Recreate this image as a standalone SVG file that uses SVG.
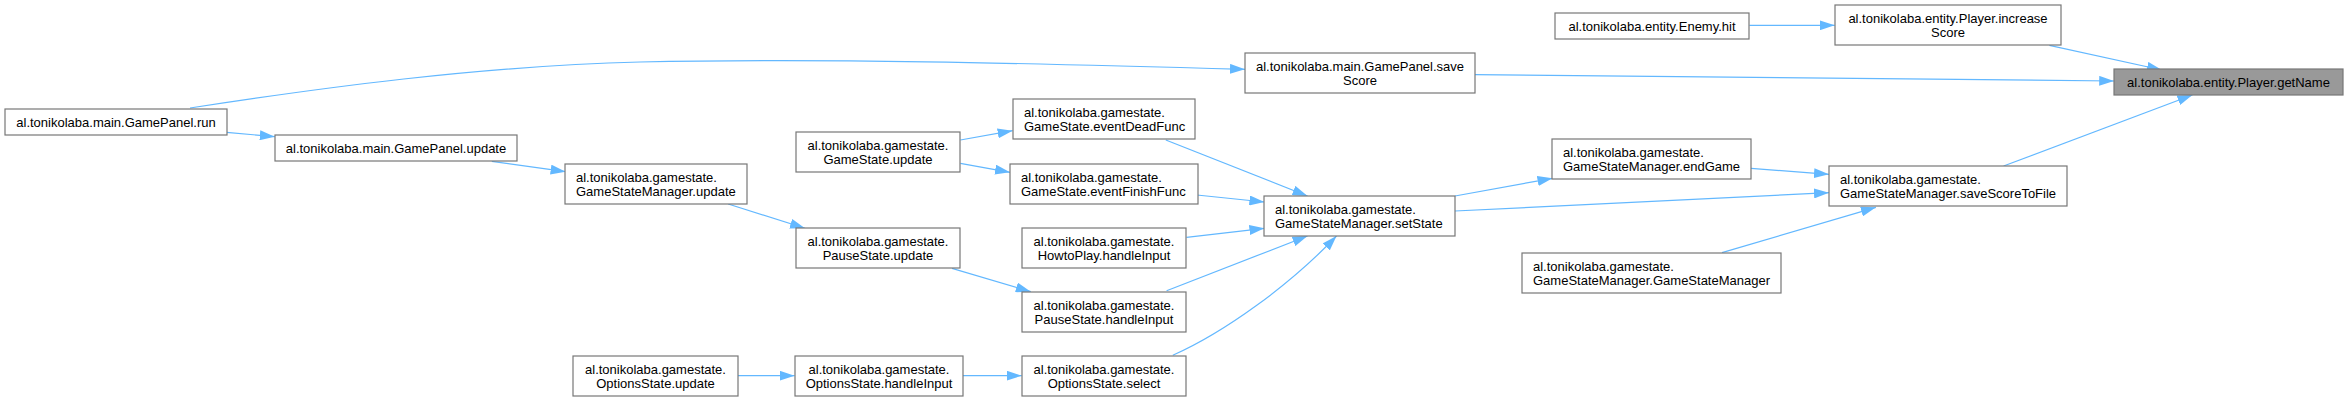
<svg xmlns="http://www.w3.org/2000/svg" width="2348" height="401" viewBox="0 0 2348 401">
<defs>
<style>
.n rect{fill:#ffffff;stroke:#777777;stroke-width:1.2}
.n.f rect{fill:#999999}
.n text{font-family:"Liberation Sans",Arial,sans-serif;font-size:13px;fill:#000000}
.c{text-anchor:middle}
.e path{fill:none;stroke:#63b8ff;stroke-width:1.2;marker-end:url(#ah)}
</style>
<marker id="ah" markerWidth="15" markerHeight="10" refX="15" refY="5" orient="auto" markerUnits="userSpaceOnUse"><path d="M0,0 L15,5 L0,10 z" fill="#63b8ff" stroke="none"/></marker>
</defs>
<rect x="0" y="0" width="2348" height="401" fill="#ffffff"/>
<g id="edges" class="e">
<path d="M226.6,132.3 L274.8,136.7"/>
<path d="M190,108 C320,88 480,66 640,62 C820,58 1020,63 1245,69.3"/>
<path d="M491.8,161.3 L565.6,171.7"/>
<path d="M728.2,204 L805,228.3"/>
<path d="M960.4,140 L1012.6,130.7"/>
<path d="M960.4,163.3 L1010,172.3"/>
<path d="M952,268.3 L1030.8,291.7"/>
<path d="M737.8,375.7 L794.6,375.7"/>
<path d="M962.8,375.7 L1021.7,375.7"/>
<path d="M1165.8,140 L1307.5,196"/>
<path d="M1196.8,195 L1264.4,202"/>
<path d="M1186.5,237.3 L1264.4,228.3"/>
<path d="M1166.6,290.7 L1307.5,236"/>
<path d="M1172.8,355.3 C1225,332 1290,285 1336.5,236"/>
<path d="M1455,196 L1552.5,178.3"/>
<path d="M1455,211 L1829,192.7"/>
<path d="M1751,168.3 L1829,174.3"/>
<path d="M1722,252.7 L1875.9,207.3"/>
<path d="M1749.4,25.3 L1834.7,25.3"/>
<path d="M2049.4,45.3 L2161.9,70"/>
<path d="M1474.6,74.7 L2114.2,81"/>
<path d="M2003.6,166 L2192.4,95"/>
</g>
<g id="n_getName" class="n f"><rect x="2114" y="69" width="229" height="26"/><text class="c" x="2228.5" y="86.5">al.tonikolaba.entity.Player.getName</text></g>
<g id="n_increaseScore" class="n"><rect x="1835" y="5" width="226" height="40"/><text class="c" x="1948" y="22.5">al.tonikolaba.entity.Player.increase</text><text class="c" x="1948" y="36.5">Score</text></g>
<g id="n_saveScore" class="n"><rect x="1245" y="53" width="230" height="40"/><text class="c" x="1360" y="70.5">al.tonikolaba.main.GamePanel.save</text><text class="c" x="1360" y="84.5">Score</text></g>
<g id="n_saveScoreToFile" class="n"><rect x="1829" y="166" width="238" height="40"/><text x="1840" y="183.5">al.tonikolaba.gamestate.</text><text x="1840" y="197.5">GameStateManager.saveScoreToFile</text></g>
<g id="n_enemyHit" class="n"><rect x="1555" y="13" width="194" height="26"/><text class="c" x="1652" y="30.5">al.tonikolaba.entity.Enemy.hit</text></g>
<g id="n_run" class="n"><rect x="5" y="109" width="222" height="26"/><text class="c" x="116" y="126.5">al.tonikolaba.main.GamePanel.run</text></g>
<g id="n_endGame" class="n"><rect x="1552" y="139" width="199" height="40"/><text x="1563" y="156.5">al.tonikolaba.gamestate.</text><text x="1563" y="170.5">GameStateManager.endGame</text></g>
<g id="n_setState" class="n"><rect x="1264" y="196" width="191" height="40"/><text x="1275" y="213.5">al.tonikolaba.gamestate.</text><text x="1275" y="227.5">GameStateManager.setState</text></g>
<g id="n_gsmCtor" class="n"><rect x="1522" y="253" width="259" height="40"/><text x="1533" y="270.5">al.tonikolaba.gamestate.</text><text x="1533" y="284.5">GameStateManager.GameStateManager</text></g>
<g id="n_gpUpdate" class="n"><rect x="275" y="135" width="242" height="26"/><text class="c" x="396" y="152.5">al.tonikolaba.main.GamePanel.update</text></g>
<g id="n_eventDead" class="n"><rect x="1013" y="99" width="182" height="40"/><text x="1024" y="116.5">al.tonikolaba.gamestate.</text><text x="1024" y="130.5">GameState.eventDeadFunc</text></g>
<g id="n_eventFinish" class="n"><rect x="1010" y="164" width="188" height="40"/><text x="1021" y="181.5">al.tonikolaba.gamestate.</text><text x="1021" y="195.5">GameState.eventFinishFunc</text></g>
<g id="n_howto" class="n"><rect x="1022" y="228" width="164" height="40"/><text class="c" x="1104" y="245.5">al.tonikolaba.gamestate.</text><text class="c" x="1104" y="259.5">HowtoPlay.handleInput</text></g>
<g id="n_pauseHandle" class="n"><rect x="1022" y="292" width="164" height="40"/><text class="c" x="1104" y="309.5">al.tonikolaba.gamestate.</text><text class="c" x="1104" y="323.5">PauseState.handleInput</text></g>
<g id="n_optSelect" class="n"><rect x="1022" y="356" width="164" height="40"/><text class="c" x="1104" y="373.5">al.tonikolaba.gamestate.</text><text class="c" x="1104" y="387.5">OptionsState.select</text></g>
<g id="n_gsUpdate" class="n"><rect x="796" y="132" width="164" height="40"/><text class="c" x="878" y="149.5">al.tonikolaba.gamestate.</text><text class="c" x="878" y="163.5">GameState.update</text></g>
<g id="n_gsmUpdate" class="n"><rect x="565" y="164" width="182" height="40"/><text x="576" y="181.5">al.tonikolaba.gamestate.</text><text x="576" y="195.5">GameStateManager.update</text></g>
<g id="n_pauseUpdate" class="n"><rect x="796" y="228" width="164" height="40"/><text class="c" x="878" y="245.5">al.tonikolaba.gamestate.</text><text class="c" x="878" y="259.5">PauseState.update</text></g>
<g id="n_optHandle" class="n"><rect x="795" y="356" width="168" height="40"/><text class="c" x="879" y="373.5">al.tonikolaba.gamestate.</text><text class="c" x="879" y="387.5">OptionsState.handleInput</text></g>
<g id="n_optUpdate" class="n"><rect x="573" y="356" width="165" height="40"/><text class="c" x="655.5" y="373.5">al.tonikolaba.gamestate.</text><text class="c" x="655.5" y="387.5">OptionsState.update</text></g>
</svg>
